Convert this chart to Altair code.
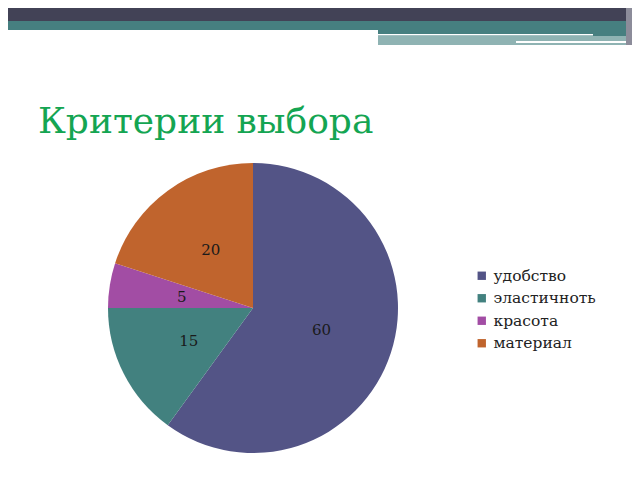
import altair as alt
import pandas as pd

# data
categories = ["удобство", "эластичноть", "красота", "материал"]
values = [60, 15, 5, 20]
order = [0, 1, 2, 3]
colors = ["#535486", "#42817F", "#A24DA4", "#C0642D"]
title_text = "Критерии выбора"

df = pd.DataFrame({"cat": categories, "val": values, "ord": order})

W, H = 624, 464
CX, CY = 245, 300
R = 145
LR = 72

base = alt.Chart(df).encode(
    theta=alt.Theta("val:Q", stack=True),
    order=alt.Order("ord:Q"),
)

pie = base.mark_arc(outerRadius=R, stroke=None).encode(
    x=alt.value(CX),
    y=alt.value(CY),
    color=alt.Color(
        "cat:N",
        scale=alt.Scale(domain=categories, range=colors),
        sort=categories,
        legend=alt.Legend(
            title=None,
            orient="none",
            legendX=466,
            legendY=260,
            symbolType="square",
            symbolSize=70,
            symbolStrokeWidth=0,
            labelFont="DejaVu Serif",
            labelFontSize=15.5,
            labelColor="#222222",
            labelOffset=4,
            rowPadding=5.5,
        ),
    ),
)

labels = base.mark_text(
    radius=LR, font="DejaVu Serif", fontSize=15, color="#1a1a1a"
).encode(
    x=alt.value(CX),
    y=alt.value(CY),
    text="val:Q",
)

# decorative slide header
hdr = pd.DataFrame({"k": [0]})
def band(x1, x2, y1, y2, col):
    return alt.Chart(hdr).mark_rect(color=col).encode(
        x=alt.value(x1), x2=alt.value(x2), y=alt.value(y1), y2=alt.value(y2)
    )

header = alt.layer(
    band(0, W, 0, 13, "#424256"),
    band(0, W, 13, 22, "#467F80"),
    band(370, W, 22, 28, "#467F80"),
    band(370, W, 28, 37, "#8FB3B3"),
    band(370, 585, 26, 27.5, "#ffffff"),
    band(508, 620, 33, 35, "#ffffff"),
    band(618, W, 0, 37, "#8C8C9A"),
)

title = alt.Chart(hdr).mark_text(
    text=title_text,
    font="DejaVu Serif",
    fontSize=36,
    color="#14A552",
    align="left",
    baseline="alphabetic",
).encode(x=alt.value(30), y=alt.value(125))

chart = alt.layer(header, title, pie, labels).properties(
    width=W, height=H, padding=0, autosize=alt.AutoSizeParams(type="none")
).configure_view(stroke=None)

chart.save("out.html", embed_options={"renderer": "svg", "actions": False})
